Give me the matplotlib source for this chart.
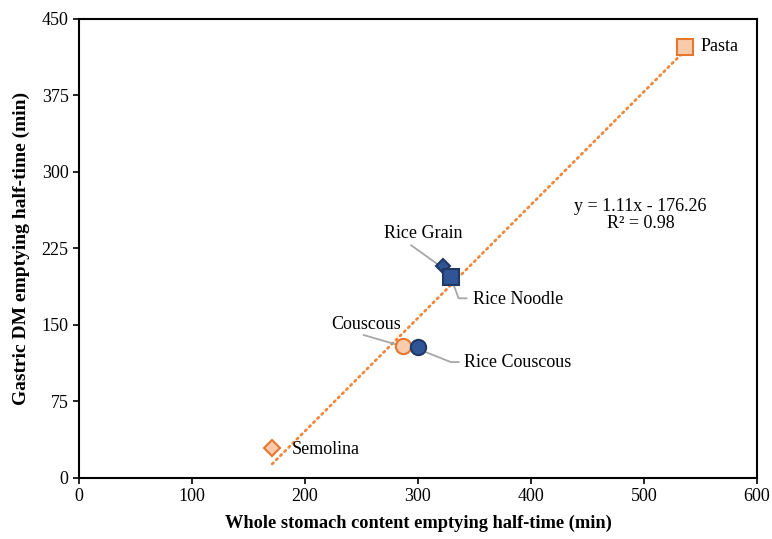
import matplotlib.pyplot as plt

plt.rcParams['font.family'] = ['Liberation Serif', 'DejaVu Serif']

# half-times (min): whole stomach content vs gastric dry matter
produtos = ['Pasta', 'Rice Grain', 'Rice Noodle', 'Couscous', 'Rice Couscous', 'Semolina']
t_total = [536, 322, 329, 287, 300, 171]
t_ms = [423, 208, 197, 129, 128, 29]
marcadores = ['s', 'D', 's', 'o', 'o', 'D']
tamanhos = [11, 7, 11, 11, 11, 8]
trigo = ['Pasta', 'Couscous', 'Semolina']

inclinacao = 1.11
intercepto = -176.26
r2 = 0.98

LARANJA = '#E5772E'
LARANJA_CLARO = '#F8CBAD'
AZUL = '#2F5597'
AZUL_ESCURO = '#203864'
CINZA = '#A6A6A6'

fig = plt.figure(figsize=(7.72, 5.39), dpi=100)
ax = fig.add_axes([0.1023, 0.1136, 0.8782, 0.8512])

# linha de tendencia, do menor ao maior x
xs = [min(t_total), max(t_total)]
ys = [inclinacao * x + intercepto for x in xs]
ax.plot(xs, ys, linestyle=(0, (0.6, 1.5)), color='#F0883E', lw=2,
        dash_capstyle='round', zorder=1)

for nome, x, y, m, s in zip(produtos, t_total, t_ms, marcadores, tamanhos):
    if nome in trigo:
        cor, borda = LARANJA_CLARO, LARANJA
    else:
        cor, borda = AZUL, AZUL_ESCURO
    ax.plot(x, y, marker=m, ms=s, mfc=cor, mec=borda, mew=1.5, ls='none', zorder=3)

# linhas de chamada
chamadas = [
    ([294, 318], [228, 209]),
    ([330, 336, 343], [194, 176, 176]),
    ([252, 283], [140, 130]),
    ([303, 329, 336], [125, 113.5, 113.5]),
]
for cx, cy in chamadas:
    ax.plot(cx, cy, color=CINZA, lw=1.3, zorder=2)

fs = 13
ax.text(550, 423, 'Pasta', fontsize=fs, va='center')
ax.text(188, 28, 'Semolina', fontsize=fs, va='center')
ax.text(305, 240, 'Rice Grain', fontsize=fs, ha='center', va='center')
ax.text(349, 175, 'Rice Noodle', fontsize=fs, ha='left', va='center')
ax.text(254, 150, 'Couscous', fontsize=fs, ha='center', va='center')
ax.text(341, 113, 'Rice Couscous', fontsize=fs, ha='left', va='center')

ax.text(497, 258, f'y = {inclinacao:.2f}x - {abs(intercepto):.2f}\nR² = {r2:.2f}',
        fontsize=fs, ha='center', va='center', linespacing=1.0)

ax.set_xlim(0, 600)
ax.set_ylim(0, 450)
ax.set_xticks(range(0, 601, 100))
ax.set_yticks(range(0, 451, 75))
ax.tick_params(direction='out', length=4, width=1.2, labelsize=13, colors='black')
for lado in ax.spines.values():
    lado.set_linewidth(1.5)
    lado.set_color('black')

ax.set_xlabel('Whole stomach content emptying half-time (min)', fontsize=13.2,
              fontweight='bold', labelpad=7)
ax.set_ylabel('Gastric DM emptying half-time (min)', fontsize=14,
              fontweight='bold', labelpad=8)

fig.savefig('out.png', dpi=100)
